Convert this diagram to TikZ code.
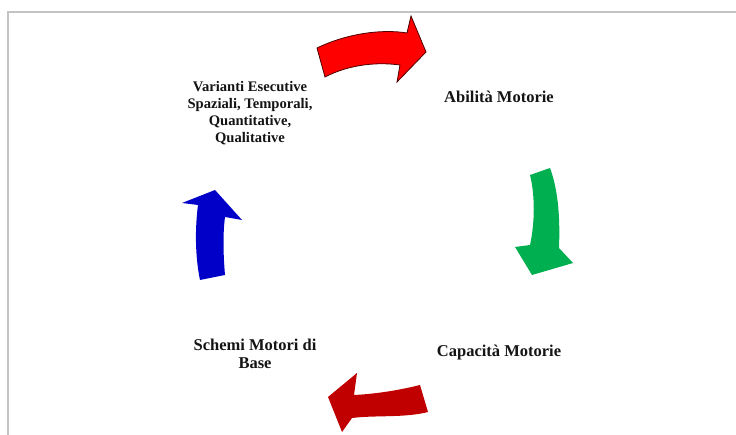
\documentclass[tikz,border=0pt]{standalone}
\usepackage{fontspec}
\setmainfont{Liberation Serif}
\definecolor{frameg}{RGB}{196,196,196}
\definecolor{cyRed}{RGB}{255,0,0}
\definecolor{cyGreen}{RGB}{0,176,80}
\definecolor{cyDark}{RGB}{192,0,0}
\definecolor{cyBlue}{RGB}{0,0,200}
\definecolor{txt}{RGB}{20,20,20}
\begin{document}
\begin{tikzpicture}[x=1pt,y=-1pt,
  lbl/.style={font=\fontsize{16.5}{18}\selectfont\bfseries, text=txt, align=center, inner sep=0pt},
  small/.style={font=\fontsize{14.6}{17}\selectfont\bfseries},
  cyclearrow/.style={line join=miter}]
\useasboundingbox (0,0) rectangle (736,435);
\fill[white] (0,0) rectangle (736,435);
% slide frame
\draw[frameg, line width=1.3pt] (8,435) -- (8,12) -- (736,12);

% labels
\node[lbl, small] (var) at (250,113) {Varianti Esecutive\\Spaziali, Temporali,\\Quantitative,\\Qualitative};
\node[lbl] (abil) at (499,97) {Abilità Motorie};
\node[lbl] (cap) at (499,353) {Capacità Motorie};
\node[lbl] (sch) at (255,354) {Schemi Motori di\\Base};

% curved block arrows of the cycle
\filldraw[cyclearrow, fill=cyRed, draw=black!70!red, line width=0.8pt]
  (317,48) .. controls (348,33) and (383,29) .. (407,33) -- (411,16) -- (426,52)
  -- (397,82) -- (400,65) .. controls (378,62) and (350,64) .. (325,77) -- cycle;
\fill[cyclearrow, cyGreen]
  (530,175) -- (550,168) .. controls (559,192) and (560,222) .. (559,248)
  -- (573,263) -- (532,275) -- (515,247) -- (530,245)
  .. controls (535,222) and (535,195) .. (530,175) -- cycle;
\fill[cyclearrow, cyDark]
  (420,385) .. controls (400,390) and (376,394) .. (354,395) -- (357,373)
  -- (328,397) -- (342,432) -- (352,418) .. controls (376,415) and (405,418)
  .. (428,412) -- cycle;
\fill[cyclearrow, cyBlue]
  (200,280) -- (225,275) .. controls (223,252) and (223,232) .. (225,217)
  -- (242,220) -- (215,190) -- (182,203) -- (198,205)
  .. controls (195,228) and (195,256) .. (200,280) -- cycle;
\end{tikzpicture}
\end{document}
